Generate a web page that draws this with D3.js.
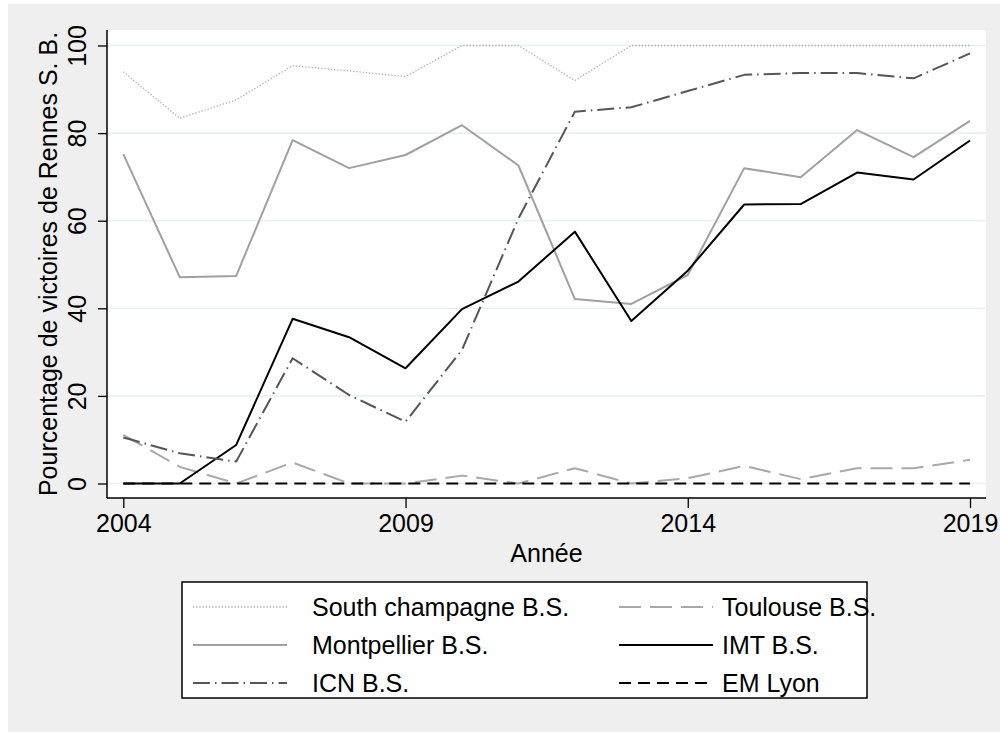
<!DOCTYPE html>
<html>
<head>
<meta charset="utf-8">
<script src="https://cdn.jsdelivr.net/npm/d3@7"></script>
<style>
  body { margin: 0; background: #fff; }
  text { font-family: "Liberation Sans", Helvetica, Arial, sans-serif; }
</style>
</head>
<body>
<div id="chart"></div>
<script>
// Years on the x axis
const years = d3.range(2004, 2020);

// Series values (percent of wins of Rennes S. B.)
const southChampagne = [94.0, 83.4, 87.6, 95.4, 94.2, 92.9, 100, 100, 92.0, 100, 100, 100, 100, 100, 100, 100];
const toulouse = [11.1, 3.8, 0, 4.8, 0, 0, 1.8, 0, 3.5, 0, 1.2, 4.0, 1.0, 3.5, 3.5, 5.4];
const montpellier = [75.2, 47.1, 47.4, 78.4, 72.0, 75.0, 81.8, 72.6, 42.1, 41.0, 47.6, 72.0, 69.9, 80.7, 74.5, 82.8];
const imt = [0, 0, 8.8, 37.6, 33.4, 26.3, 39.8, 46.1, 57.5, 37.1, 48.6, 63.7, 63.8, 71.0, 69.4, 78.3];
const icn = [10.5, 6.9, 5.0, 28.6, 20.2, 14.1, 30.5, 60.5, 84.9, 85.9, 89.6, 93.3, 93.7, 93.7, 92.5, 98.2];
const emLyon = [0, 0, 0, 0, 0, 0, 0, 0, 0, 0, 0, 0, 0, 0, 0, 0];

const yTicks = [0, 20, 40, 60, 80, 100];
const xTicks = [2004, 2009, 2014, 2019];

const seriesNames = ["South champagne B.S.", "Toulouse B.S.", "Montpellier B.S.", "IMT B.S.", "ICN B.S.", "EM Lyon"];
const seriesValues = [southChampagne, toulouse, montpellier, imt, icn, emLyon];

// Line styles, in the same order as the series
const styles = [
  {color: "#a6a6a6", width: 1.3, dash: "1.2,2"},
  {color: "#a8a8a8", width: 2, dash: "22,9"},
  {color: "#a0a0a0", width: 2, dash: null},
  {color: "#000000", width: 2, dash: null},
  {color: "#555555", width: 2, dash: "17,5,1.5,5"},
  {color: "#000000", width: 2, dash: "12,7"}
];

const width = 1000, height = 732;
const plot = {left: 107, right: 986, top: 30, bottom: 498};

const svg = d3.select("#chart")
  .append("svg")
  .attr("width", width)
  .attr("height", height);

// Outer grey background and white plot region
svg.append("rect")
  .attr("x", 8).attr("y", 4)
  .attr("width", width - 8).attr("height", height - 4)
  .attr("fill", "#efefef");

svg.append("rect")
  .attr("x", plot.left).attr("y", plot.top)
  .attr("width", plot.right - plot.left).attr("height", plot.bottom - plot.top)
  .attr("fill", "#ffffff");

const x = d3.scaleLinear()
  .domain([2004, 2019])
  .range([123.3, 970]);

const y = d3.scaleLinear()
  .domain([0, 100])
  .range([483.5, 45.5]);

// Grid lines
svg.append("g")
  .selectAll("line")
  .data(yTicks)
  .join("line")
    .attr("x1", plot.left)
    .attr("x2", plot.right)
    .attr("y1", d => y(d))
    .attr("y2", d => y(d))
    .attr("stroke", "#e8f1f2")
    .attr("stroke-width", 1.6);

// Lines
const line = d3.line()
  .x((d, i) => x(years[i]))
  .y(d => y(d));

svg.append("g")
  .selectAll("path")
  .data(seriesValues)
  .join("path")
    .attr("d", d => line(d))
    .attr("fill", "none")
    .attr("stroke", (d, i) => styles[i].color)
    .attr("stroke-width", (d, i) => styles[i].width)
    .attr("stroke-dasharray", (d, i) => styles[i].dash)
    .attr("stroke-linejoin", "round");

// Axes
const yAxis = d3.axisLeft(y)
  .tickValues(yTicks)
  .tickSize(9)
  .tickPadding(6);

const yGroup = svg.append("g")
    .attr("transform", `translate(${plot.left},0)`)
  .call(yAxis);

yGroup.select(".domain").remove();
yGroup.append("line")
  .attr("x1", 0).attr("x2", 0)
  .attr("y1", plot.top).attr("y2", plot.bottom)
  .attr("stroke", "#000").attr("stroke-width", 1.5);
yGroup.selectAll(".tick line").attr("stroke-width", 1.3);
yGroup.selectAll(".tick text")
  .attr("font-size", 25)
  .attr("fill", "#000")
  .attr("text-anchor", "middle")
  .attr("dy", 0)
  .attr("x", 0)
  .attr("transform", "translate(-21,0) rotate(-90)");

const xAxis = d3.axisBottom(x)
  .tickValues(xTicks)
  .tickFormat(d3.format("d"))
  .tickSize(10)
  .tickPadding(6);

const xGroup = svg.append("g")
    .attr("transform", `translate(0,${plot.bottom})`)
  .call(xAxis);

xGroup.select(".domain").remove();
xGroup.append("line")
  .attr("x1", plot.left).attr("x2", plot.right)
  .attr("y1", 0).attr("y2", 0)
  .attr("stroke", "#000").attr("stroke-width", 1.5);
xGroup.selectAll(".tick line").attr("stroke-width", 1.3);
xGroup.selectAll(".tick text")
  .attr("font-size", 25)
  .attr("fill", "#000");

// Axis titles
svg.append("text")
  .attr("x", (plot.left + plot.right) / 2)
  .attr("y", 562)
  .attr("text-anchor", "middle")
  .attr("font-size", 25)
  .text("Année");

svg.append("text")
  .attr("transform", `translate(57,${(plot.top + plot.bottom) / 2}) rotate(-90)`)
  .attr("text-anchor", "middle")
  .attr("font-size", 25)
  .text("Pourcentage de victoires de Rennes S. B.");

// Legend
const legend = {left: 182, top: 582, right: 867, bottom: 698};
svg.append("rect")
  .attr("x", legend.left).attr("y", legend.top)
  .attr("width", legend.right - legend.left)
  .attr("height", legend.bottom - legend.top)
  .attr("fill", "#fff")
  .attr("stroke", "#000")
  .attr("stroke-width", 1.5);

const rowY = [607, 645, 683];
const colX = [193, 619];
const textX = [119, 103];

const items = svg.append("g")
  .selectAll("g")
  .data(seriesNames)
  .join("g")
    .attr("transform", (d, i) => `translate(${colX[i % 2]},${rowY[Math.floor(i / 2)]})`);

items.append("line")
  .attr("x1", 0).attr("x2", 94)
  .attr("y1", 0).attr("y2", 0)
  .attr("stroke", (d, i) => styles[i].color)
  .attr("stroke-width", (d, i) => styles[i].width)
  .attr("stroke-dasharray", (d, i) => styles[i].dash);

items.append("text")
  .attr("x", (d, i) => textX[i % 2])
  .attr("dy", "0.35em")
  .attr("font-size", 25)
  .text(d => d);
</script>
</body>
</html>
